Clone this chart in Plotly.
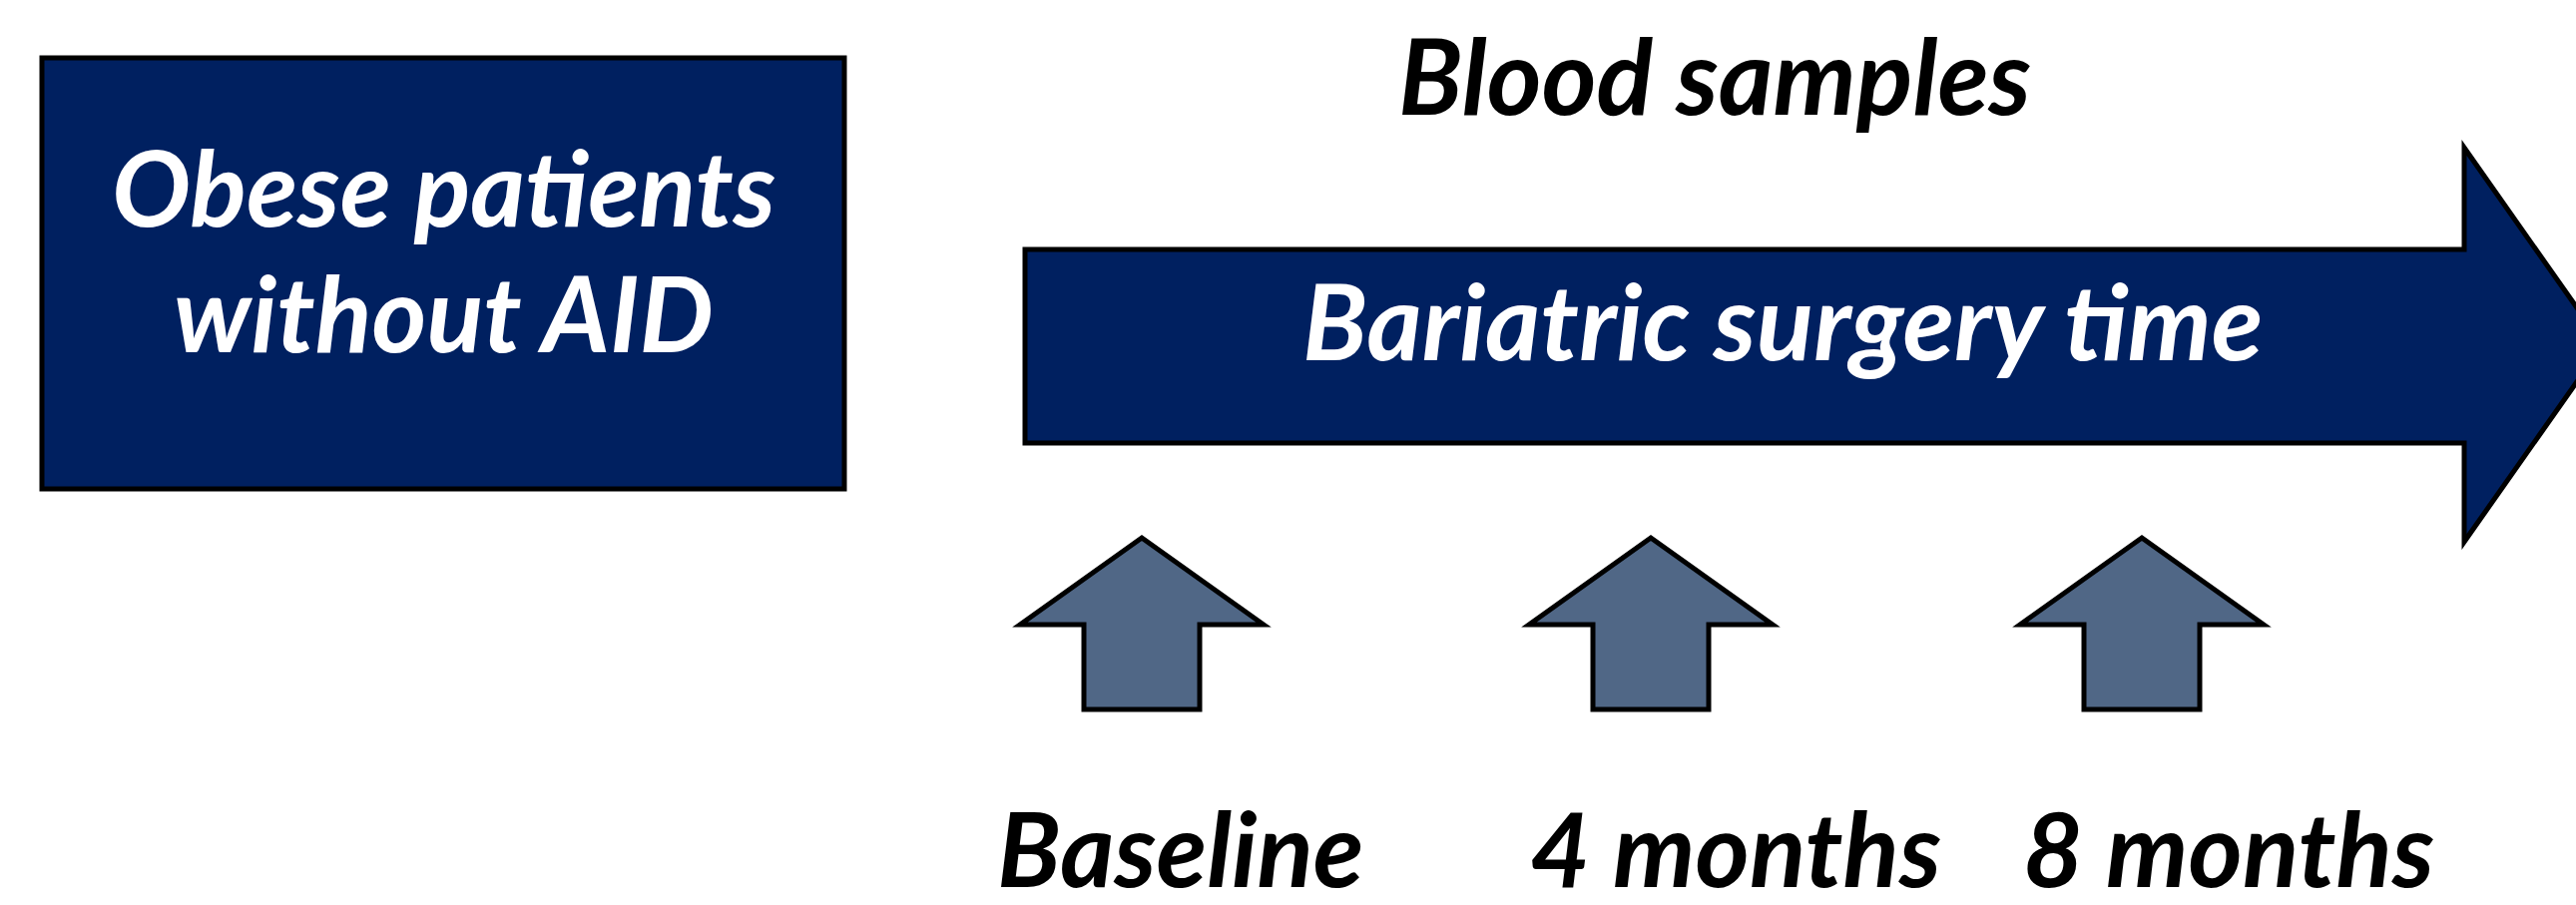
import plotly.graph_objects as go

# ---- content ----
box_lines = ["Obese patients", "without AID"]
top_label = "Blood samples"
arrow_label = "Bariatric surgery time"
timepoints = ["Baseline", "4 months", "8 months"]

W, H = 2581, 907
NAVY = "#002060"
SLATE = "#506786"
FONT = "Lato"

fig = go.Figure()

# left box
fig.add_shape(type="rect", x0=42, y0=58, x1=846, y1=490,
              fillcolor=NAVY, line=dict(color="black", width=5), layer="below")

# big timeline arrow
shaft_x0, shaft_x1 = 1027, 2469
shaft_y0, shaft_y1 = 250, 444
head_y0, head_y1 = 148, 543
tip_x = 2608
tip_y = (head_y0 + head_y1) / 2
big = (f"M {shaft_x0},{shaft_y0} L {shaft_x1},{shaft_y0} L {shaft_x1},{head_y0} "
       f"L {tip_x},{tip_y} L {shaft_x1},{head_y1} L {shaft_x1},{shaft_y1} "
       f"L {shaft_x0},{shaft_y1} Z")
fig.add_shape(type="path", path=big, fillcolor=NAVY,
              line=dict(color="black", width=5), layer="below")

# small up arrows
centers = [1144, 1654, 2146]
for cx in centers:
    tip, hb, bot = 539, 626, 711
    hw, sw = 122, 58
    p = (f"M {cx},{tip} L {cx+hw},{hb} L {cx+sw},{hb} L {cx+sw},{bot} "
         f"L {cx-sw},{bot} L {cx-sw},{hb} L {cx-hw},{hb} Z")
    fig.add_shape(type="path", path=p, fillcolor=SLATE,
                  line=dict(color="black", width=5), layer="below")

def txt(x, y, s, size, color):
    fig.add_annotation(x=x, y=y, text=s, showarrow=False, xanchor="center",
                       yanchor="middle",
                       font=dict(family=FONT, size=size, color=color,
                                 weight="bold", style="italic"))

txt(444, 186, box_lines[0], 105, "white")
txt(444, 312, box_lines[1], 105, "white")
txt(1718, 74, top_label, 105, "black")
txt(1786, 320, arrow_label, 106, "white")
label_x = [1182, 1739, 2233]
for lx, s in zip(label_x, timepoints):
    txt(lx, 848, s, 104, "black")

fig.update_layout(
    width=W, height=H, margin=dict(l=0, r=0, t=0, b=0),
    paper_bgcolor="white", plot_bgcolor="white", showlegend=False,
    xaxis=dict(range=[0, W], visible=False, fixedrange=True),
    yaxis=dict(range=[H, 0], visible=False, fixedrange=True),
)
fig.write_html("out.html", config={"displayModeBar": False},
               post_script="document.body.style.margin='0';document.body.style.overflow='hidden';")
